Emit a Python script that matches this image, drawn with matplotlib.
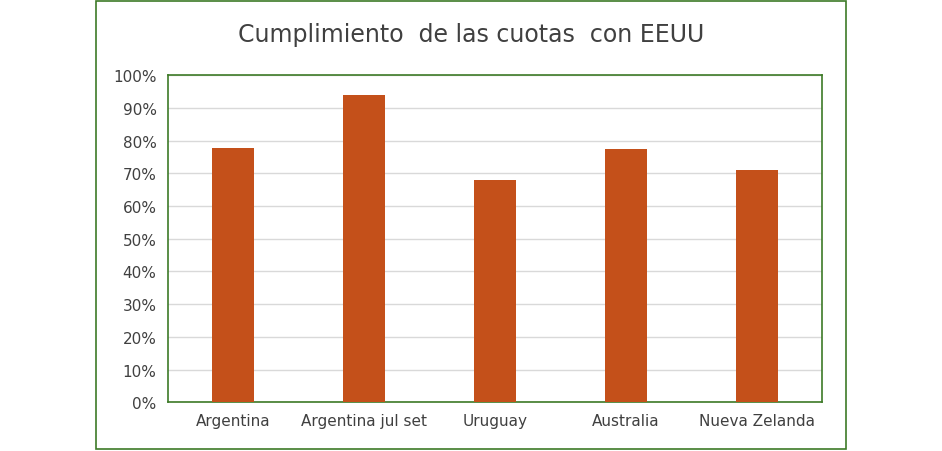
import matplotlib
matplotlib.use('Agg')
import matplotlib.pyplot as plt
from matplotlib.patches import Rectangle
from matplotlib.ticker import PercentFormatter

labels = ["Argentina", "Argentina jul set", "Uruguay", "Australia", "Nueva Zelanda"]
values = [77.7, 93.9, 67.9, 77.4, 70.9]

fig = plt.figure(figsize=(9.42, 4.52), dpi=100)

# outer chart frame
fig.patches.append(Rectangle((0.102, 0.004), 0.796, 0.991, transform=fig.transFigure,
                             fill=False, edgecolor="#3d7a27", linewidth=1.2))

ax = fig.add_axes([0.178, 0.108, 0.695, 0.723])
ax.bar(range(len(labels)), values, width=0.32, color="#c4501a", zorder=3)
ax.set_xlim(-0.5, len(labels) - 0.5)
ax.set_ylim(0, 100)
ax.set_yticks(range(0, 101, 10))
ax.yaxis.set_major_formatter(PercentFormatter(decimals=0))
ax.set_xticks(range(len(labels)))
ax.set_xticklabels(labels)
ax.grid(axis="y", color="#d9d9d9", linewidth=1, zorder=0)
ax.tick_params(length=0, labelsize=11, colors="#404040", pad=8)
for s in ax.spines.values():
    s.set_color("#3d7a27")
    s.set_linewidth(1.2)

fig.text(0.5, 0.923, "Cumplimiento  de las cuotas  con EEUU", ha="center", va="center",
         fontsize=17, color="#404040")

plt.savefig("out.png", dpi=100)
